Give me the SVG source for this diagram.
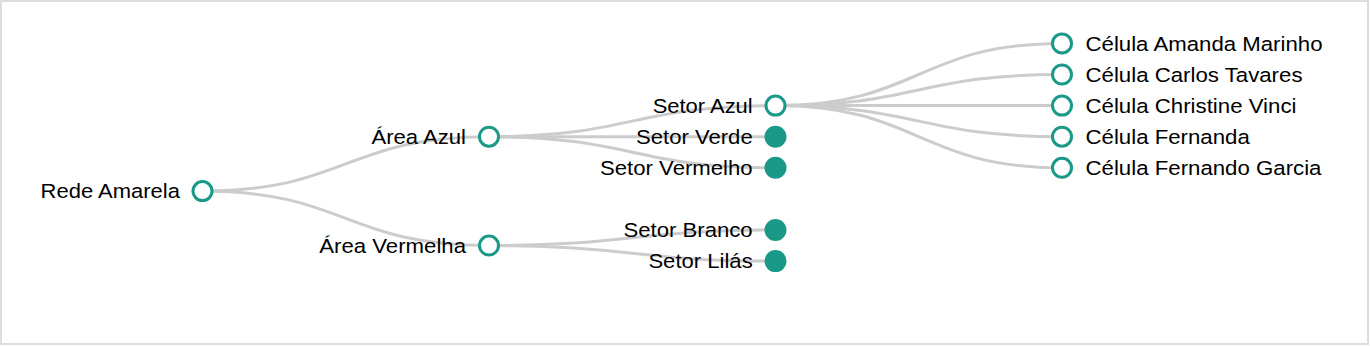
<svg xmlns="http://www.w3.org/2000/svg" width="1370" height="346" viewBox="0 0 1370 346">
<style>
.link{fill:none;stroke:#cccccc;stroke-width:3}
.node circle{stroke:#1a9988;stroke-width:3}
.open circle{fill:#ffffff}
.leaf circle{fill:#1a9988}
.node text{font-family:"Liberation Sans",Arial,sans-serif;font-size:20.5px;fill:#000000}
.l text{text-anchor:end}
.r text{text-anchor:start}
</style>
<rect x="1" y="1" width="1367" height="343" fill="#ffffff" stroke="#dddddd" stroke-width="2"/>
<g id="links">
<path class="link" d="M202.5,191.1C345.75,191.1 345.75,136.7 489,136.7"/>
<path class="link" d="M202.5,191.1C345.75,191.1 345.75,245.55 489,245.55"/>
<path class="link" d="M489,136.7C632.25,136.7 632.25,105.6 775.5,105.6"/>
<path class="link" d="M489,136.7C632.25,136.7 632.25,136.7 775.5,136.7"/>
<path class="link" d="M489,136.7C632.25,136.7 632.25,167.8 775.5,167.8"/>
<path class="link" d="M489,245.55C632.25,245.55 632.25,230 775.5,230"/>
<path class="link" d="M489,245.55C632.25,245.55 632.25,261.1 775.5,261.1"/>
<path class="link" d="M775.5,105.6C918.75,105.6 918.75,43.4 1062,43.4"/>
<path class="link" d="M775.5,105.6C918.75,105.6 918.75,74.5 1062,74.5"/>
<path class="link" d="M775.5,105.6C918.75,105.6 918.75,105.6 1062,105.6"/>
<path class="link" d="M775.5,105.6C918.75,105.6 918.75,136.7 1062,136.7"/>
<path class="link" d="M775.5,105.6C918.75,105.6 918.75,167.8 1062,167.8"/>
</g>
<g id="rede-amarela" class="node open l"><circle cx="202.5" cy="191.1" r="9.5"/><text x="180" y="198.3" textLength="139.5" lengthAdjust="spacingAndGlyphs">Rede Amarela</text></g>
<g id="area-azul" class="node open l"><circle cx="489" cy="136.7" r="9.5"/><text x="466" y="143.9" textLength="94.5" lengthAdjust="spacingAndGlyphs">Área Azul</text></g>
<g id="area-vermelha" class="node open l"><circle cx="489" cy="245.55" r="9.5"/><text x="466" y="252.75" textLength="146.7" lengthAdjust="spacingAndGlyphs">Área Vermelha</text></g>
<g id="setor-azul" class="node open l"><circle cx="775.5" cy="105.6" r="9.5"/><text x="752.7" y="112.8" textLength="100" lengthAdjust="spacingAndGlyphs">Setor Azul</text></g>
<g id="setor-verde" class="node leaf l"><circle cx="775.5" cy="136.7" r="9.5"/><text x="752.7" y="143.9" textLength="116.7" lengthAdjust="spacingAndGlyphs">Setor Verde</text></g>
<g id="setor-vermelho" class="node leaf l"><circle cx="775.5" cy="167.8" r="9.5"/><text x="752.7" y="175" textLength="152.7" lengthAdjust="spacingAndGlyphs">Setor Vermelho</text></g>
<g id="setor-branco" class="node leaf l"><circle cx="775.5" cy="230" r="9.5"/><text x="752.7" y="237.2" textLength="129.3" lengthAdjust="spacingAndGlyphs">Setor Branco</text></g>
<g id="setor-lilas" class="node leaf l"><circle cx="775.5" cy="261.1" r="9.5"/><text x="752.7" y="268.3" textLength="104.3" lengthAdjust="spacingAndGlyphs">Setor Lilás</text></g>
<g id="celula-amanda-marinho" class="node open r"><circle cx="1062" cy="43.4" r="9.5"/><text x="1085.5" y="50.6" textLength="237" lengthAdjust="spacingAndGlyphs">Célula Amanda Marinho</text></g>
<g id="celula-carlos-tavares" class="node open r"><circle cx="1062" cy="74.5" r="9.5"/><text x="1085.5" y="81.7" textLength="217" lengthAdjust="spacingAndGlyphs">Célula Carlos Tavares</text></g>
<g id="celula-christine-vinci" class="node open r"><circle cx="1062" cy="105.6" r="9.5"/><text x="1085.5" y="112.8" textLength="211" lengthAdjust="spacingAndGlyphs">Célula Christine Vinci</text></g>
<g id="celula-fernanda" class="node open r"><circle cx="1062" cy="136.7" r="9.5"/><text x="1085.5" y="143.9" textLength="164.3" lengthAdjust="spacingAndGlyphs">Célula Fernanda</text></g>
<g id="celula-fernando-garcia" class="node open r"><circle cx="1062" cy="167.8" r="9.5"/><text x="1085.5" y="175" textLength="236" lengthAdjust="spacingAndGlyphs">Célula Fernando Garcia</text></g>
</svg>
